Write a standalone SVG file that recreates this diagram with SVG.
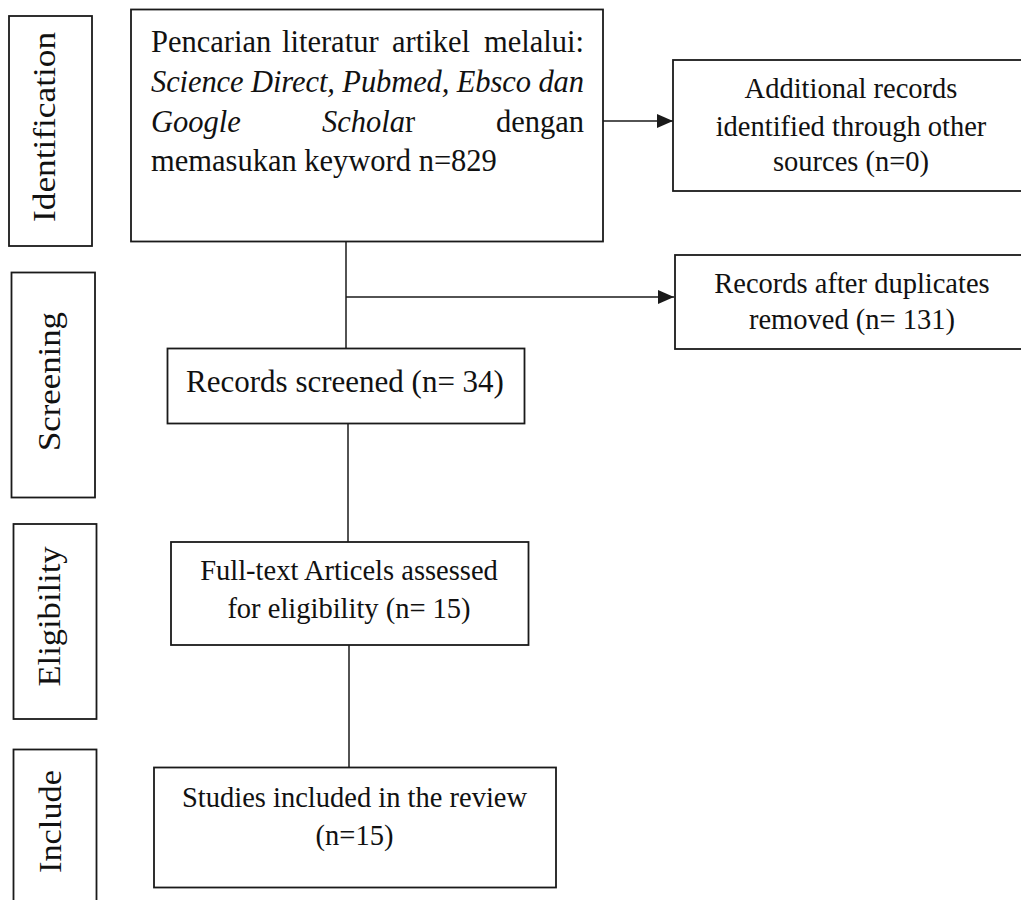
<svg xmlns="http://www.w3.org/2000/svg" width="1021" height="900" viewBox="0 0 1021 900">
<style>
  .box { fill: #fff; stroke: #1a1a1a; stroke-width: 1.8; }
  .line { fill: none; stroke: #1a1a1a; stroke-width: 1.5; }
  .t { font-family: "Liberation Serif", "Times New Roman", serif; fill: #111; }
  .m { font-size: 30.5px; }
  .s { font-size: 28.5px; text-anchor: middle; }
  .side { font-size: 32px; text-anchor: middle; }
  .i { font-style: italic; }
</style>
<defs>
  <marker id="arrow" viewBox="0 0 16 14" refX="16" refY="7" markerWidth="16" markerHeight="14" markerUnits="userSpaceOnUse" orient="auto">
    <path d="M0,0 L16,7 L0,14 z" fill="#1a1a1a"/>
  </marker>
</defs>
<rect width="1021" height="900" fill="#fff"/>

<g id="connectors">
  <line class="line" x1="603" y1="121" x2="673" y2="121" marker-end="url(#arrow)"/>
  <line class="line" x1="346" y1="242" x2="346" y2="348"/>
  <line class="line" x1="346" y1="297" x2="674" y2="297" marker-end="url(#arrow)"/>
  <line class="line" x1="348" y1="423" x2="348" y2="542"/>
  <line class="line" x1="349" y1="645" x2="349" y2="767"/>
</g>

<g id="label-identification">
  <rect class="box" x="9" y="16" width="83" height="230"/>
  <text class="t side" transform="translate(55,127) rotate(-90)" textLength="190" lengthAdjust="spacingAndGlyphs">Identification</text>
</g>
<g id="label-screening">
  <rect class="box" x="11.5" y="272.5" width="83.5" height="225"/>
  <text class="t side" transform="translate(59.5,381.5) rotate(-90)" textLength="139" lengthAdjust="spacingAndGlyphs">Screening</text>
</g>
<g id="label-eligibility">
  <rect class="box" x="13.5" y="524" width="83" height="195"/>
  <text class="t side" transform="translate(60,616.5) rotate(-90)" textLength="140" lengthAdjust="spacingAndGlyphs">Eligibility</text>
</g>
<g id="label-include">
  <rect class="box" x="13.5" y="749.5" width="83" height="160"/>
  <text class="t side" transform="translate(60.5,821.5) rotate(-90)" textLength="103" lengthAdjust="spacingAndGlyphs">Include</text>
</g>

<g id="node-search">
  <rect class="box" x="131" y="9.5" width="472" height="232"/>
  <text class="t m" y="52">
    <tspan x="151">Pencarian</tspan><tspan x="282">literatur</tspan><tspan x="392">artikel</tspan><tspan x="584" text-anchor="end">melalui:</tspan>
  </text>
  <text class="t m i" x="151" y="91.5" textLength="433" lengthAdjust="spacing">Science Direct, Pubmed, Ebsco dan</text>
  <text class="t m" y="131.5">
    <tspan x="151" class="i">Google</tspan><tspan x="322" class="i">Schola</tspan><tspan>r</tspan><tspan x="584" text-anchor="end">dengan</tspan>
  </text>
  <text class="t m" x="151" y="171">memasukan keyword n=829</text>
</g>

<g id="node-additional">
  <rect class="box" x="673" y="60" width="360" height="131"/>
  <text class="t s" x="851" y="98">Additional records</text>
  <text class="t s" x="851" y="136">identified through other</text>
  <text class="t s" x="851" y="171">sources (n=0)</text>
</g>

<g id="node-duplicates">
  <rect class="box" x="675" y="255" width="360" height="94"/>
  <text class="t s" x="852" y="293">Records after duplicates</text>
  <text class="t s" x="852" y="329">removed (n= 131)</text>
</g>

<g id="node-screened">
  <rect class="box" x="167.5" y="348.5" width="357" height="75"/>
  <text class="t" x="345" y="391.5" text-anchor="middle" font-size="31">Records screened (n= 34)</text>
</g>

<g id="node-eligibility">
  <rect class="box" x="171" y="542" width="357.5" height="103"/>
  <text class="t s" x="349" y="580">Full-text Articels assessed</text>
  <text class="t s" x="349" y="618">for eligibility (n= 15)</text>
</g>

<g id="node-included">
  <rect class="box" x="154" y="767.5" width="402" height="120"/>
  <text class="t s" x="354.5" y="806.5">Studies included in the review</text>
  <text class="t s" x="354.5" y="845">(n=15)</text>
</g>
</svg>
